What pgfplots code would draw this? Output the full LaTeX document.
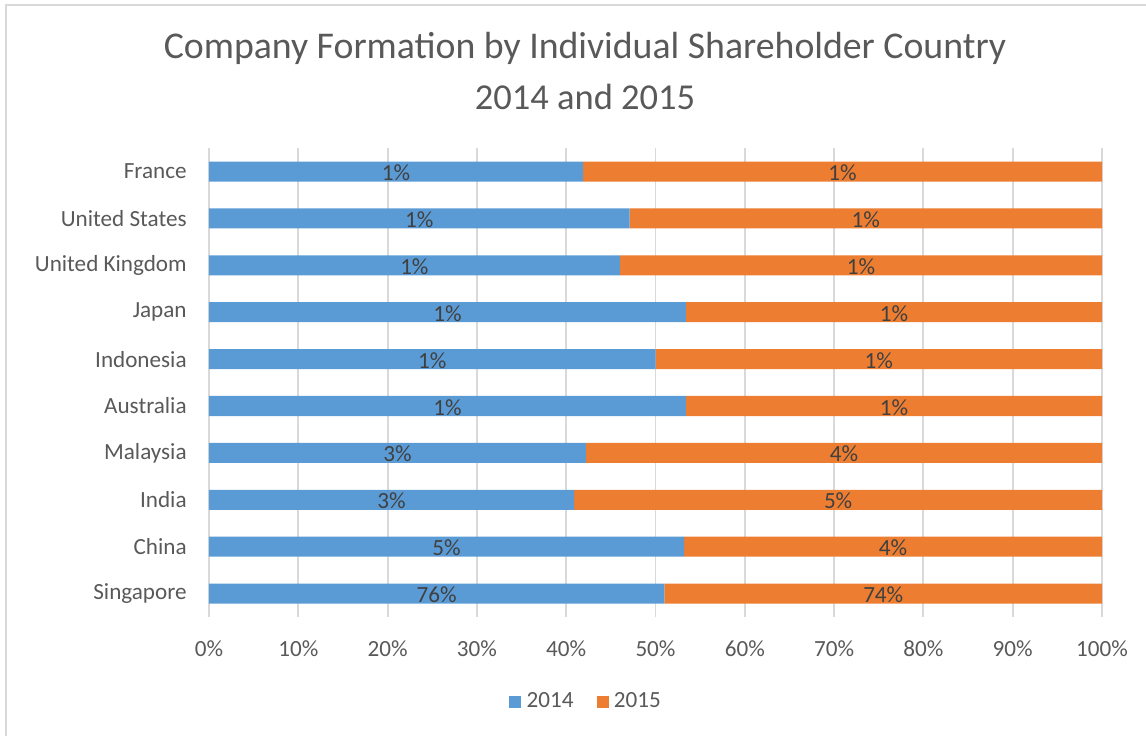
\documentclass[border=0pt]{standalone}
\usepackage{pgfplots}
\pgfplotsset{compat=1.18}
\usepackage{fontspec}
\setmainfont{Carlito}
\newfontfamily\titlefont{Carlito}
\definecolor{cblue}{HTML}{5B9BD5}
\definecolor{corange}{HTML}{ED7D31}
\definecolor{tgray}{HTML}{595959}
\definecolor{lgray}{HTML}{404040}
\definecolor{ggray}{HTML}{D9D9D9}
\begin{document}
\begin{tikzpicture}[x=0.389pt,y=0.389pt]
\path[use as bounding box] (0,0) rectangle (1146,736);
\draw[ggray, line width=0.7pt] (6,0) -- (6,731) -- (1146,731);
\node[font=\titlefont\fontsize{14.7}{16}\selectfont, text=tgray] at (585,688) {Company Formation by Individual Shareholder Country};
\node[font=\titlefont\fontsize{14.2}{16}\selectfont, text=tgray] at (585,639) {2014 and 2015};
\begin{axis}[
  at={(81.3pt,46.29pt)}, anchor=south west,
  scale only axis, width=347.4pt, height=182.4pt,
  xbar stacked, bar width=7.8pt,
  xmin=0, xmax=100, ymin=-0.5, ymax=9.5,
  ytick={0,...,9},
  yticklabels={Singapore,China,India,Malaysia,Australia,Indonesia,Japan,United Kingdom,United States,France},
  xtick={0,10,...,100},
  xticklabels={0\%,10\%,20\%,30\%,40\%,50\%,60\%,70\%,80\%,90\%,100\%},
  xmajorgrids, grid style={ggray, line width=0.75pt},
  axis line style={draw=none},
  major tick length=0pt,
  tick label style={font=\fontsize{9}{11}\selectfont, text=tgray},
  yticklabel style={inner sep=0pt, xshift=-8.5pt},
  xticklabel style={inner sep=0pt, yshift=-9pt},
  legend style={at={(0.424,-0.181)}, anchor=center, draw=none, fill=none,
    legend columns=2, font=\fontsize{9}{11}\selectfont, text=tgray,
    /tikz/every even column/.append style={column sep=7pt}},
  legend image code/.code={\fill[#1] (0pt,-2.3pt) rectangle (4.7pt,2.3pt);},
]
\addplot[fill=cblue, draw=none] coordinates {
  (51.0,0) (53.2,1) (40.9,2) (42.2,3) (53.4,4) (50.0,5) (53.4,6) (46.0,7) (47.1,8) (41.9,9)};
\addlegendentry{2014}
\addplot[fill=corange, draw=none] coordinates {
  (49.0,0) (46.8,1) (59.1,2) (57.8,3) (46.6,4) (50.0,5) (46.6,6) (54.0,7) (52.9,8) (58.1,9)};
\addlegendentry{2015}
\end{axis}
\begin{axis}[
  at={(81.3pt,46.29pt)}, anchor=south west,
  scale only axis, width=347.4pt, height=182.4pt,
  xmin=0, xmax=100, ymin=-0.5, ymax=9.5, hide axis,
  nodes near coords, point meta=explicit symbolic,
  every node near coord/.append style={anchor=center, font=\fontsize{9}{11}\selectfont, text=lgray, yshift=-0.5pt},
]
\addplot[draw=none, mark=none] coordinates {
  (25.5,0) [76\%] (26.6,1) [5\%] (20.45,2) [3\%] (21.1,3) [3\%] (26.7,4) [1\%]
  (25.0,5) [1\%] (26.7,6) [1\%] (23.0,7) [1\%] (23.55,8) [1\%] (20.95,9) [1\%]};
\addplot[draw=none, mark=none] coordinates {
  (75.5,0) [74\%] (76.6,1) [4\%] (70.45,2) [5\%] (71.1,3) [4\%] (76.7,4) [1\%]
  (75.0,5) [1\%] (76.7,6) [1\%] (73.0,7) [1\%] (73.55,8) [1\%] (70.95,9) [1\%]};
\end{axis}
\end{tikzpicture}
\end{document}
